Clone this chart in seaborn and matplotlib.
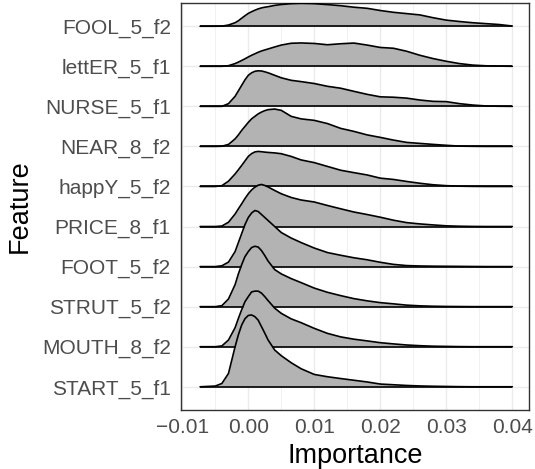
import numpy as np
import matplotlib
matplotlib.use("Agg")
import matplotlib.pyplot as plt
from matplotlib.ticker import MultipleLocator
import seaborn as sns

# ---------------- data ----------------
features = ["START_5_f1", "MOUTH_8_f2", "STRUT_5_f2", "FOOT_5_f2", "PRICE_8_f1",
            "happY_5_f2", "NEAR_8_f2", "NURSE_5_f1", "lettER_5_f1", "FOOL_5_f2"]

importance_grid = [-0.0073, -0.005, -0.004, -0.003, -0.002, -0.0015, -0.001, -0.0005,
                   0.0, 0.0005, 0.001, 0.0015, 0.002, 0.0025, 0.003, 0.004, 0.005,
                   0.0065, 0.008, 0.01, 0.012, 0.014, 0.016, 0.018, 0.02, 0.022,
                   0.024, 0.026, 0.028, 0.03, 0.032, 0.034, 0.036, 0.038, 0.04]

# ridge heights (pixels of the reference, 40 px = one row)
START_5_f1 = [0, 0.7, 3.3, 13.3, 40, 52, 61.7, 68, 71.2, 71.7, 70, 66.5, 60, 53.5, 46.7,
              36.7, 31, 24, 18, 12.3, 10, 8.2, 6.5, 4.8, 2.7, 2, 1.3, 0.8, 0.5, 0.3,
              0.1, 0, 0, 0, 0]
MOUTH_8_f2 = [0, 0, 0.8, 6.7, 19, 28.3, 37, 45, 50, 54.7, 55.5, 55.5, 53.5, 50, 46,
              38.5, 33.3, 27.8, 24, 18.3, 13.3, 9.8, 7.5, 5.8, 4, 2.8, 1.7, 1, 0.5, 0.3,
              0.1, 0, 0, 0, 0]
STRUT_5_f2 = [0, 0, 1, 7.7, 22, 32.7, 42, 50, 55, 59, 60.3, 59.5, 56, 51, 45.5,
              37, 32.7, 28, 24, 18.5, 14.3, 11, 8, 5.8, 4, 2.8, 1.5, 0.8, 0.4, 0.2,
              0.1, 0, 0, 0, 0]
FOOT_5_f2 = [0, 0, 0.8, 4.5, 15, 24, 33, 42, 49, 53.5, 56, 55, 52, 49, 46,
             40, 34, 28.5, 24, 18.5, 14, 11.3, 8.8, 6.8, 4.3, 2.2, 1, 0.6, 0.4, 0.3,
             0.2, 0.1, 0, 0, 0]
PRICE_8_f1 = [0, 0, 0.5, 4.3, 12.5, 17.7, 22.7, 28, 32.7, 36.5, 39.3, 41.3, 42, 41, 39.5,
              36, 32.7, 29, 26.5, 24.5, 21, 17.7, 14.5, 12, 9.3, 6.3, 3.9, 2.6, 1.6, 0.7,
              0.3, 0.1, 0, 0, 0]
happY_5_f2 = [0, 0, 0.8, 5.3, 12.5, 16.7, 21, 25.5, 30, 32.8, 34.5, 35, 34.7, 34.3, 34,
              33.5, 32.7, 30, 26.5, 23.8, 20, 16.2, 13.8, 11.5, 8.3, 7, 5, 3.2, 1.7, 0.8,
              0.3, 0.1, 0, 0, 0]
NEAR_8_f2 = [0, 0, 0.2, 2, 7.5, 11.5, 16, 20, 24, 27.5, 30, 32.5, 34.3, 35.7, 36.7,
             37.3, 36, 30, 27.5, 26, 22.8, 18, 15, 11.5, 9, 6.3, 4, 3, 2, 1.1,
             0.3, 0.1, 0, 0, 0]
NURSE_5_f1 = [0, 0, 0, 2.7, 10, 15.5, 21, 26.5, 31, 33.5, 35, 35.5, 35.3, 34.5, 33.5,
              31, 28.5, 26, 24.7, 22.8, 20, 18.1, 15, 12, 9.5, 9.1, 8.2, 6.3, 5, 4.7,
              2.7, 1.3, 0.4, 0.1, 0]
lettER_5_f1 = [0, 0, 0, 0.6, 2.7, 4.2, 5.8, 7.5, 9.3, 11, 12.5, 14, 15.3, 16.3, 17.3,
               19.3, 21.2, 23, 23.3, 22.8, 21.5, 22.5, 23.2, 21.2, 18.8, 18, 15, 11, 7.7, 5,
               2.7, 1.2, 0.5, 0.2, 0]
FOOL_5_f2 = [0, 0, 0.1, 1.2, 3.5, 5.5, 8, 10.5, 12.8, 14.5, 16, 17.3, 18.3, 19, 19.5,
             20.8, 21.7, 22.5, 22.8, 22.5, 21.6, 20.5, 19, 17.9, 15.7, 13.9, 12.6, 11.3, 8.5, 6.1,
             4.7, 3.5, 2.6, 1.7, 0.2]

heights = {
    "START_5_f1": START_5_f1, "MOUTH_8_f2": MOUTH_8_f2, "STRUT_5_f2": STRUT_5_f2,
    "FOOT_5_f2": FOOT_5_f2, "PRICE_8_f1": PRICE_8_f1, "happY_5_f2": happY_5_f2,
    "NEAR_8_f2": NEAR_8_f2, "NURSE_5_f1": NURSE_5_f1, "lettER_5_f1": lettER_5_f1,
    "FOOL_5_f2": FOOL_5_f2,
}
x_ticks = [-0.01, 0.0, 0.01, 0.02, 0.03, 0.04]
x_tick_labels = ["\u22120.01", "0.00", "0.01", "0.02", "0.03", "0.04"]

# ---------------- style ----------------
sns.set_theme(style="white")
plt.rcParams["font.family"] = ["Liberation Sans", "DejaVu Sans"]

fig = plt.figure(figsize=(5.35, 4.69), dpi=100)
ax = fig.add_axes([0.3374, 0.1258, 0.6514, 0.8678])

ROW_PX = 40.0
grid_x = np.array(importance_grid)

# draw from the top ridge down so lower ridges overlap upper ones
n = len(features)
for i in range(n - 1, -1, -1):
    name = features[i]
    base = i + 1
    h = np.array(heights[name]) / ROW_PX
    z = 10 + (n - i) * 3
    ax.fill_between(grid_x, base, base + h, color="#B3B3B3", linewidth=0, zorder=z)
    sns.lineplot(x=grid_x, y=base + h, ax=ax, color="black", linewidth=1.2,
                 zorder=z + 1, legend=False, sort=False, estimator=None)
    ax.plot([grid_x[0], grid_x[-1]], [base, base], color="black", linewidth=1.2,
            zorder=z + 1, solid_capstyle="butt")

ax.set_xlim(-0.01027, 0.04253)
ax.set_ylim(0.42, 10.58)

ax.set_yticks(range(1, n + 1))
ax.set_yticklabels(features)
ax.set_xticks(x_ticks)
ax.set_xticklabels(x_tick_labels)
ax.xaxis.set_minor_locator(MultipleLocator(0.005))

ax.grid(which="major", axis="both", color="#EBEBEB", linewidth=1.0, zorder=0)
ax.grid(which="minor", axis="x", color="#EBEBEB", linewidth=0.5, zorder=0)
ax.set_axisbelow(True)

for s in ax.spines.values():
    s.set_color("#333333")
    s.set_linewidth(1.0)

ax.tick_params(axis="both", which="major", length=3.0, width=0.8, color="#333333",
               labelsize=15, labelcolor="#4D4D4D", pad=2.5)
ax.tick_params(axis="y", pad=4)
ax.tick_params(axis="both", which="minor", length=0)

ax.set_xlabel("Importance", fontsize=19.5, color="black")
ax.set_ylabel("Feature", fontsize=19.5, color="black")
ax.xaxis.set_label_coords(0.5, -0.082)
ax.yaxis.set_label_coords(-0.423, 0.5)

fig.savefig("out.png", dpi=100)
